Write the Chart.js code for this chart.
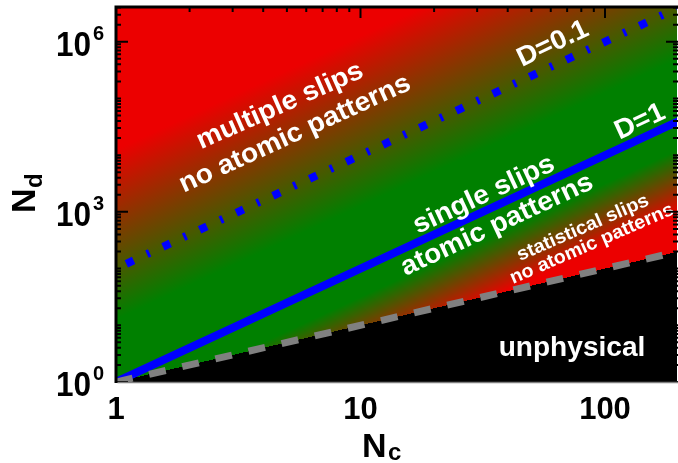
<!DOCTYPE html>
<html>
<head>
<meta charset="utf-8">
<script src="https://cdn.jsdelivr.net/npm/chart.js@4.4.1/dist/chart.umd.min.js"></script>
<style>
  html, body { margin: 0; padding: 0; background: #fff; }
  canvas { display: block; }
</style>
</head>
<body>
<canvas id="chart" width="678" height="463"></canvas>
<script>
// line end points (Nc) and the Nd they reach
const ncEnds = [1, 200];
const ndD1 = [1, 40000];          // D = 1
const ndD01 = [100, 4000000];     // D = 0.1
const ndLimit = [1, 200];         // Nd = Nc, below is unphysical

// tick values and labels
const xMajorTicks = [1, 10, 100];
const xTickLabels = ["1", "10", "100"];
const yMajorTicks = [1, 1e3, 1e6];
const yTickExponents = ["0", "3", "6"];

// colour field: log10(D) where red turns to green and green back to red
const upperRamp = [-2.05, -0.55];
const lowerRamp = [0.25, 0.8];
const red = [236, 0, 0];
const green = [0, 128, 0];

function greenShare(logD) {
    if (logD < upperRamp[0]) return 0;
    if (logD < upperRamp[1]) return (logD - upperRamp[0]) / (upperRamp[1] - upperRamp[0]);
    if (logD < lowerRamp[0]) return 1;
    if (logD < lowerRamp[1]) return 1 - (logD - lowerRamp[0]) / (lowerRamp[1] - lowerRamp[0]);
    return 0;
}

const points = (ys) => ncEnds.map((x, i) => ({ x, y: ys[i] }));

// background: red/green field and the black unphysical wedge
const fieldPlugin = {
    id: "field",
    beforeDatasetsDraw(chart) {
        const { ctx, chartArea: a, scales: { x, y } } = chart;
        const w = Math.round(a.right - a.left), h = Math.round(a.bottom - a.top);
        const off = document.createElement("canvas");
        off.width = w; off.height = h;
        const octx = off.getContext("2d");
        const img = octx.createImageData(w, h);
        const logNc = [], logNd = [];
        for (let i = 0; i < w; i++) logNc.push(Math.log10(x.getValueForPixel(a.left + i + 0.5)));
        for (let j = 0; j < h; j++) logNd.push(Math.log10(y.getValueForPixel(a.top + j + 0.5)));
        for (let j = 0; j < h; j++) {
            for (let i = 0; i < w; i++) {
                const k = (j * w + i) * 4;
                let r = 0, g = 0, b = 0;
                if (logNd[j] >= logNc[i]) {
                    const t = greenShare(logNc[i] - 0.5 * logNd[j]);
                    r = red[0] * (1 - t) + green[0] * t;
                    g = red[1] * (1 - t) + green[1] * t;
                    b = red[2] * (1 - t) + green[2] * t;
                }
                img.data[k] = r; img.data[k + 1] = g; img.data[k + 2] = b; img.data[k + 3] = 255;
            }
        }
        octx.putImageData(img, 0, 0);
        ctx.drawImage(off, a.left, a.top);
    }
};

function stretchedText(ctx, text, cx, cy, angle, font, sx) {
    ctx.save();
    ctx.translate(cx, cy);
    ctx.rotate(-angle * Math.PI / 180);
    ctx.scale(sx, 1);
    ctx.font = font;
    ctx.textAlign = "center";
    ctx.textBaseline = "middle";
    ctx.fillText(text, 0, 0);
    ctx.restore();
}

// frame, inward ticks, labels and region names
const decorPlugin = {
    id: "decor",
    afterDatasetsDraw(chart) {
        const { ctx, chartArea: a, scales: { x, y } } = chart;
        const big = "bold 27px 'Liberation Sans', Arial, sans-serif";
        const small = "bold 19px 'Liberation Sans', Arial, sans-serif";

        ctx.save();
        ctx.fillStyle = "#fff";
        stretchedText(ctx, "multiple slips", 280, 106, 24, big, 1.04);
        stretchedText(ctx, "no atomic patterns", 295, 134, 24.5, big, 1.04);
        stretchedText(ctx, "single slips", 484, 195, 25, big, 1.04);
        stretchedText(ctx, "atomic patterns", 497, 225, 25, big, 1.04);
        stretchedText(ctx, "statistical slips", 583, 228, 23.5, small, 1.04);
        stretchedText(ctx, "no atomic patterns", 592, 244, 23.5, small, 1.04);
        stretchedText(ctx, "D=0.1", 553, 44, 25.5, big, 1.04);
        stretchedText(ctx, "D=1", 640, 122, 25, big, 1.04);
        stretchedText(ctx, "unphysical", 572, 349, 0, big, 1.04);

        // minor ticks
        const xMinor = [], yMinor = [];
        for (let k = 0; k <= 2; k++) for (let m = 1; m <= 9; m++) {
            const v = m * Math.pow(10, k);
            if (v > x.min && v < x.max && !xMajorTicks.includes(v)) xMinor.push(v);
        }
        for (let k = 0; k <= 6; k++) for (let m = 1; m <= 9; m++) {
            const v = m * Math.pow(10, k);
            if (v > y.min && v < y.max && !yMajorTicks.includes(v)) yMinor.push(v);
        }
        ctx.strokeStyle = "#000";
        ctx.lineWidth = 2;
        ctx.beginPath();
        const xTick = (v, len) => {
            const px = x.getPixelForValue(v);
            ctx.moveTo(px, a.top); ctx.lineTo(px, a.top + len);
            ctx.moveTo(px, a.bottom); ctx.lineTo(px, a.bottom - len);
        };
        const yTick = (v, len) => {
            const py = y.getPixelForValue(v);
            ctx.moveTo(a.left, py); ctx.lineTo(a.left + len, py);
            ctx.moveTo(a.right + 1, py); ctx.lineTo(a.right + 1 - len, py);
        };
        xMinor.forEach(v => xTick(v, 5));
        xMajorTicks.forEach(v => xTick(v, 11));
        yMinor.forEach(v => yTick(v, 5));
        yMajorTicks.forEach(v => yTick(v, 12));
        ctx.stroke();

        // frame
        ctx.lineWidth = 3;
        ctx.beginPath();
        ctx.moveTo(a.left, a.bottom + 1); ctx.lineTo(a.left, a.top - 1.5);
        ctx.moveTo(a.left - 1.5, a.top); ctx.lineTo(a.right + 2, a.top);
        ctx.stroke();
        ctx.strokeStyle = "#808080";
        ctx.lineWidth = 1.5;
        ctx.beginPath();
        ctx.moveTo(a.left + 1.5, a.bottom + 0.5); ctx.lineTo(a.right + 2, a.bottom + 0.5);
        ctx.stroke();

        // tick labels
        ctx.fillStyle = "#000";
        ctx.font = "bold 31px 'Liberation Sans', Arial, sans-serif";
        ctx.textAlign = "center";
        ctx.textBaseline = "alphabetic";
        xMajorTicks.forEach((v, i) => ctx.fillText(xTickLabels[i], x.getPixelForValue(v), 419));

        yMajorTicks.forEach((v, i) => {
            const py = y.getPixelForValue(v);
            ctx.save();
            ctx.translate(91, py + 14);
            ctx.scale(0.9, 1);
            ctx.font = "bold 35px 'Liberation Sans', Arial, sans-serif";
            ctx.textAlign = "right";
            ctx.fillText("10", 0, 0);
            ctx.restore();
            ctx.font = "bold 20px 'Liberation Sans', Arial, sans-serif";
            ctx.textAlign = "left";
            ctx.fillText(yTickExponents[i], 93, py - 2);
        });

        // axis titles
        ctx.textAlign = "left";
        ctx.font = "bold 34px 'Liberation Sans', Arial, sans-serif";
        ctx.fillText("N", 362, 457);
        ctx.font = "bold 24px 'Liberation Sans', Arial, sans-serif";
        ctx.fillText("c", 388, 460);

        ctx.save();
        ctx.translate(35, 213);
        ctx.rotate(-Math.PI / 2);
        ctx.font = "bold 34px 'Liberation Sans', Arial, sans-serif";
        ctx.fillText("N", 0, 0);
        ctx.font = "bold 24px 'Liberation Sans', Arial, sans-serif";
        ctx.fillText("d", 25, 7);
        ctx.restore();
        ctx.restore();
    }
};

new Chart(document.getElementById("chart"), {
    type: "line",
    data: {
        datasets: [
            {
                label: "Nd = Nc",
                data: points(ndLimit),
                borderColor: "#808080",
                borderWidth: 7,
                borderDash: [17, 17],
                borderCapStyle: "butt",
            },
            {
                label: "D=0.1",
                data: points(ndD01),
                borderColor: "#0000ff",
                borderWidth: 8,
                borderDash: [8, 14.7, 3, 14.7],
                borderDashOffset: 29,
                borderCapStyle: "butt",
            },
            {
                label: "D=1",
                data: points(ndD1),
                borderColor: "#0000ff",
                borderWidth: 8,
                borderCapStyle: "butt",
            },
        ],
    },
    options: {
        responsive: false,
        animation: false,
        events: [],
        layout: { padding: { left: 116, top: 7, right: 1, bottom: 81 } },
        elements: { point: { radius: 0 }, line: { tension: 0 } },
        plugins: { legend: { display: false }, tooltip: { enabled: false } },
        scales: {
            x: { type: "logarithmic", min: 1, max: 197, display: false },
            y: { type: "logarithmic", min: 1, max: 4.1e6, display: false },
        },
    },
    plugins: [fieldPlugin, decorPlugin],
});
</script>
</body>
</html>
